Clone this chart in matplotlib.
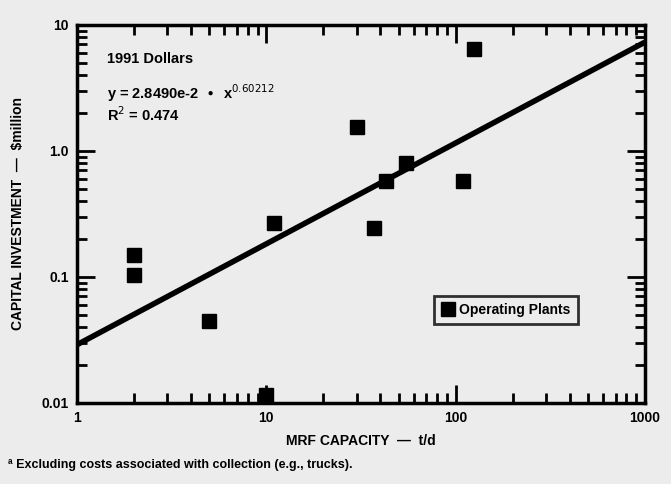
import matplotlib.pyplot as plt
from matplotlib.ticker import LogLocator, NullFormatter, FixedLocator, FixedFormatter

plt.rcParams['font.family'] = ['Liberation Sans', 'DejaVu Sans']

# operating plants: capacity (t/d) vs capital investment ($million)
capacity = [2, 2, 5, 10, 11, 30, 37, 43, 55, 110, 125]
investment = [0.15, 0.104, 0.045, 0.0115, 0.27, 1.55, 0.245, 0.58, 0.81, 0.58, 6.5]

# regression line as drawn
fit_x = [1, 1000]
fit_y = [0.029, 7.3]

x_ticks = [1, 10, 100, 1000]
x_labels = ["1", "10", "100", "1000"]
y_ticks = [0.01, 0.1, 1.0, 10]
y_labels = ["0.01", "0.1", "1.0", "10"]

bg = "#ececec"
fig = plt.figure(figsize=(6.71, 4.84), dpi=100, facecolor=bg)
ax = fig.add_axes([0.1148, 0.1674, 0.8462, 0.7810], facecolor=bg)

ax.set_xscale("log")
ax.set_yscale("log")
ax.set_xlim(1, 1000)
ax.set_ylim(0.01, 10)

ax.plot(fit_x, fit_y, color="black", lw=4, solid_capstyle="butt", zorder=2)
ax.plot(capacity, investment, "s", color="black", markersize=9.5, ls="none",
        label="Operating Plants", zorder=3)

ax.xaxis.set_major_locator(FixedLocator(x_ticks))
ax.xaxis.set_major_formatter(FixedFormatter(x_labels))
ax.yaxis.set_major_locator(FixedLocator(y_ticks))
ax.yaxis.set_major_formatter(FixedFormatter(y_labels))
ax.xaxis.set_minor_locator(LogLocator(base=10, subs=range(2, 10)))
ax.yaxis.set_minor_locator(LogLocator(base=10, subs=range(2, 10)))
ax.xaxis.set_minor_formatter(NullFormatter())
ax.yaxis.set_minor_formatter(NullFormatter())

ax.tick_params(which="both", direction="in", top=True, right=True, width=2, color="black")
ax.tick_params(which="major", length=13, labelsize=10, pad=6)
ax.tick_params(which="minor", length=7)
for lab in ax.get_xticklabels() + ax.get_yticklabels():
    lab.set_fontweight("bold")
for s in ax.spines.values():
    s.set_linewidth(2.5)

ax.text(0.053, 0.9, "1991 Dollars", transform=ax.transAxes, fontsize=10.5, fontweight="bold")
ax.text(0.053, 0.805, r"y = 2.8490e-2  $\bullet$  x$^{0.60212}$", transform=ax.transAxes,
        fontsize=10.5, fontweight="bold")
ax.text(0.053, 0.745, r"R$^2$ = 0.474", transform=ax.transAxes, fontsize=10.5, fontweight="bold")

leg = ax.legend(loc="upper left", bbox_to_anchor=(0.617, 0.302), frameon=True, fancybox=False,
                edgecolor="black", facecolor=bg, fontsize=10, handletextpad=0.3,
                borderpad=0.5, handlelength=1.0, markerscale=1.0)
leg.get_frame().set_linewidth(2)
for t in leg.get_texts():
    t.set_fontweight("bold")

ax.set_xlabel("MRF CAPACITY  \u2014  t/d", fontsize=10, fontweight="bold", labelpad=6)
ax.set_ylabel("CAPITAL INVESTMENT  \u2014  $million", fontsize=10, fontweight="bold", labelpad=12)

fig.text(0.012, 0.033, "\u00aa Excluding costs associated with collection (e.g., trucks).",
         fontsize=9, fontweight="bold")

fig.savefig("out.png", dpi=100, facecolor=bg)
